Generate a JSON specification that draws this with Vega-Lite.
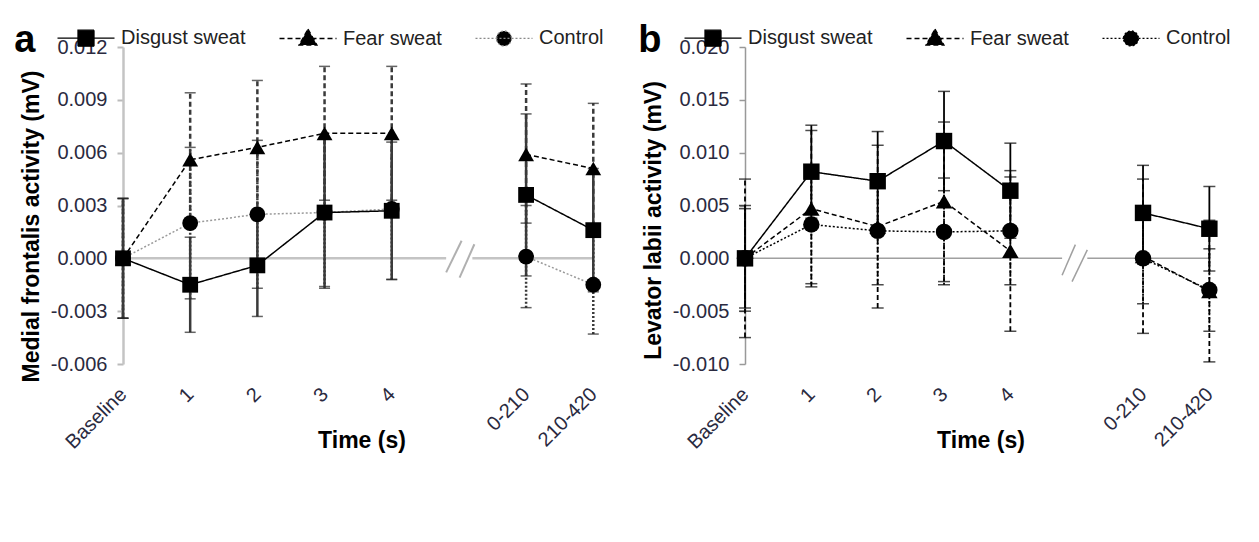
{
"$schema": "https://vega.github.io/schema/vega-lite/v6.json",
"background": "white",
"padding": {"left": 14, "top": 22, "right": 5, "bottom": 5},
"config": {"view": {"stroke": null}, "font": "Liberation Sans", "axis": {"grid": false}, "title": {"font": "Liberation Sans"}},
"datasets": {
"a": [
{"g":"Control","epoch":"early","t":0,"mean":0,"lo":-0.0034,"hi":0.0034},
{"g":"Control","epoch":"early","t":1,"mean":0.0020,"lo":-0.0023,"hi":0.0063},
{"g":"Control","epoch":"early","t":2,"mean":0.0025,"lo":-0.0017,"hi":0.0067},
{"g":"Control","epoch":"early","t":3,"mean":0.0026,"lo":-0.0017,"hi":0.0069},
{"g":"Control","epoch":"early","t":4,"mean":0.0028,"lo":-0.0012,"hi":0.0068},
{"g":"Control","epoch":"late","t":6,"mean":0.0001,"lo":-0.0028,"hi":0.0030},
{"g":"Control","epoch":"late","t":7,"mean":-0.0015,"lo":-0.0043,"hi":0.0013},
{"g":"Fear sweat","epoch":"early","t":0,"mean":0,"lo":-0.0034,"hi":0.0034},
{"g":"Fear sweat","epoch":"early","t":1,"mean":0.0056,"lo":0.0018,"hi":0.0094},
{"g":"Fear sweat","epoch":"early","t":2,"mean":0.0063,"lo":0.0025,"hi":0.0101},
{"g":"Fear sweat","epoch":"early","t":3,"mean":0.0071,"lo":0.0033,"hi":0.0109},
{"g":"Fear sweat","epoch":"early","t":4,"mean":0.0071,"lo":0.0033,"hi":0.0109},
{"g":"Fear sweat","epoch":"late","t":6,"mean":0.0059,"lo":0.0020,"hi":0.0099},
{"g":"Fear sweat","epoch":"late","t":7,"mean":0.0051,"lo":0.0014,"hi":0.0088},
{"g":"Disgust sweat","epoch":"early","t":0,"mean":0,"lo":-0.0034,"hi":0.0034},
{"g":"Disgust sweat","epoch":"early","t":1,"mean":-0.0015,"lo":-0.0042,"hi":0.0012},
{"g":"Disgust sweat","epoch":"early","t":2,"mean":-0.0004,"lo":-0.0033,"hi":0.0025},
{"g":"Disgust sweat","epoch":"early","t":3,"mean":0.0026,"lo":-0.0016,"hi":0.0068},
{"g":"Disgust sweat","epoch":"early","t":4,"mean":0.0027,"lo":-0.0012,"hi":0.0066},
{"g":"Disgust sweat","epoch":"late","t":6,"mean":0.0036,"lo":-0.0010,"hi":0.0082},
{"g":"Disgust sweat","epoch":"late","t":7,"mean":0.0016,"lo":-0.0019,"hi":0.0051}
],
"b": [
{"g":"Control","epoch":"early","t":0,"mean":0,"lo":-0.0050,"hi":0.0050},
{"g":"Control","epoch":"early","t":1,"mean":0.0032,"lo":-0.0024,"hi":0.0088},
{"g":"Control","epoch":"early","t":2,"mean":0.0026,"lo":-0.0025,"hi":0.0077},
{"g":"Control","epoch":"early","t":3,"mean":0.0025,"lo":-0.0025,"hi":0.0076},
{"g":"Control","epoch":"early","t":4,"mean":0.0026,"lo":-0.0025,"hi":0.0077},
{"g":"Control","epoch":"late","t":6,"mean":0.0000,"lo":-0.0043,"hi":0.0043},
{"g":"Control","epoch":"late","t":7,"mean":-0.0030,"lo":-0.0069,"hi":0.0009},
{"g":"Fear sweat","epoch":"early","t":0,"mean":0,"lo":-0.0075,"hi":0.0075},
{"g":"Fear sweat","epoch":"early","t":1,"mean":0.0047,"lo":-0.0027,"hi":0.0121},
{"g":"Fear sweat","epoch":"early","t":2,"mean":0.0030,"lo":-0.0047,"hi":0.0107},
{"g":"Fear sweat","epoch":"early","t":3,"mean":0.0054,"lo":-0.0022,"hi":0.0129},
{"g":"Fear sweat","epoch":"early","t":4,"mean":0.0007,"lo":-0.0069,"hi":0.0083},
{"g":"Fear sweat","epoch":"late","t":6,"mean":0.0002,"lo":-0.0071,"hi":0.0075},
{"g":"Fear sweat","epoch":"late","t":7,"mean":-0.0031,"lo":-0.0098,"hi":0.0036},
{"g":"Disgust sweat","epoch":"early","t":0,"mean":0,"lo":-0.0047,"hi":0.0047},
{"g":"Disgust sweat","epoch":"early","t":1,"mean":0.0082,"lo":0.0038,"hi":0.0126},
{"g":"Disgust sweat","epoch":"early","t":2,"mean":0.0073,"lo":0.0026,"hi":0.0120},
{"g":"Disgust sweat","epoch":"early","t":3,"mean":0.0111,"lo":0.0064,"hi":0.0158},
{"g":"Disgust sweat","epoch":"early","t":4,"mean":0.0064,"lo":0.0019,"hi":0.0109},
{"g":"Disgust sweat","epoch":"late","t":6,"mean":0.0043,"lo":-0.0002,"hi":0.0088},
{"g":"Disgust sweat","epoch":"late","t":7,"mean":0.0028,"lo":-0.0012,"hi":0.0068}
],
"zeroA": [{"t":0,"t2":4.81},{"t":5.2,"t2":7.0}],
"zeroB": [{"t":0,"t2":4.78},{"t":5.16,"t2":7.0}],
"breakA": [{"t":4.81,"v":-0.0008,"t2":5.04,"v2":0.0010},{"t":5.01,"v":-0.0011,"t2":5.23,"v2":0.0008}],
"breakB": [{"t":4.78,"v":-0.0016,"t2":4.98,"v2":0.0013},{"t":4.93,"v":-0.0022,"t2":5.16,"v2":0.0008}]
},
"spacing": 34,
"resolve": {"scale": {"x":"independent","y":"independent","color":"independent","strokeDash":"independent","shape":"independent","stroke":"independent"}, "legend": {"strokeDash":"independent","color":"independent","shape":"independent","stroke":"independent"}},
"hconcat": [
{
"width": 477, "height": 317,
"title": {"text": "a", "anchor": "start", "frame": "bounds", "fontSize": 38, "fontWeight": "bold", "color": "black", "offset": -62, "dx": -6, "baseline": "alphabetic"},
"resolve": {"scale": {"shape": "independent", "strokeDash": "independent", "stroke": "independent"}, "legend": {"shape": "independent", "strokeDash": "independent", "stroke": "independent"}},
"encoding": {"x": {"field": "t", "type": "quantitative", "scale": {"domain": [0, 7.1], "nice": false, "zero": false},
 "axis": {"title": "Time (s)", "titleFontSize": 23, "titleFontWeight": "bold", "titleColor": "black", "values": [0,1,2,3,4,6,7],
  "labelExpr": "datum.value === 0 ? 'Baseline' : datum.value === 6 ? '0-210' : datum.value === 7 ? '210-420' : datum.label",
  "labelAngle": -45, "labelAlign": "right", "labelBaseline": "middle", "labelFontSize": 20, "labelColor": "#2a2a40", "labelPadding": 27,
  "domain": false, "ticks": false, "labelFlush": false, "labelOverlap": false, "labelBound": false, "titleY": 65, "titleBaseline": "top"}}},
"layer": [
 {"data": {"name": "zeroA"}, "mark": {"type": "rule", "color": "#c4c4c4", "strokeWidth": 2.5},
  "encoding": {"x2": {"field": "t2"}, "y": {"datum": 0, "type": "quantitative", "scale": {"domain": [-0.006, 0.012], "nice": false},
    "axis": {"title": "Medial frontalis activity (mV)", "titleFontSize": 23, "titleFontWeight": "bold", "titleColor": "black", "titlePadding": 7, "titleY": 179,
     "values": [-0.006,-0.003,0,0.003,0.006,0.009,0.012], "labelExpr": "replace(format(datum.value, '.3f'), '\u2212', '-')",
     "labelFontSize": 20, "labelColor": "#2a2a40", "labelPadding": 10, "tickSize": 6, "tickColor": "#bbbbbb", "tickWidth": 2,
     "domainColor": "#c4c4c4", "domainWidth": 2.5, "labelFlush": false, "labelOverlap": false}}}},
 {"data": {"name": "breakA"}, "mark": {"type": "rule", "color": "#b0b0b0", "strokeWidth": 2},
  "encoding": {"x2": {"field": "t2"}, "y": {"field": "v", "type": "quantitative", "scale": {"domain": [-0.006, 0.012], "nice": false},
    "axis": {"title": "Medial frontalis activity (mV)", "titleFontSize": 23, "titleFontWeight": "bold", "titleColor": "black", "titlePadding": 7, "titleY": 179,
     "values": [-0.006,-0.003,0,0.003,0.006,0.009,0.012], "labelExpr": "replace(format(datum.value, '.3f'), '\u2212', '-')",
     "labelFontSize": 20, "labelColor": "#2a2a40", "labelPadding": 10, "tickSize": 6, "tickColor": "#bbbbbb", "tickWidth": 2,
     "domainColor": "#c4c4c4", "domainWidth": 2.5, "labelFlush": false, "labelOverlap": false}}, "y2": {"field": "v2"}}},
 {"data": {"name": "a"}, "mark": {"type": "rule", "color": "#3a3a3a", "strokeWidth": 2.5},
  "encoding": {"y": {"field": "lo", "type": "quantitative", "scale": {"domain": [-0.006, 0.012], "nice": false},
    "axis": {"title": "Medial frontalis activity (mV)", "titleFontSize": 23, "titleFontWeight": "bold", "titleColor": "black", "titlePadding": 7, "titleY": 179,
     "values": [-0.006,-0.003,0,0.003,0.006,0.009,0.012], "labelExpr": "replace(format(datum.value, '.3f'), '\u2212', '-')",
     "labelFontSize": 20, "labelColor": "#2a2a40", "labelPadding": 10, "tickSize": 6, "tickColor": "#bbbbbb", "tickWidth": 2,
     "domainColor": "#c4c4c4", "domainWidth": 2.5, "labelFlush": false, "labelOverlap": false}}, "y2": {"field": "hi"},
   "strokeDash": {"field": "g", "type": "nominal", "scale": {"domain": ["Disgust sweat","Fear sweat","Control"], "range": [[1,0],[5,3],[2,2]]}, "legend": null}}},
 {"data": {"name": "a"}, "mark": {"type": "tick", "orient": "horizontal", "size": 11, "thickness": 1.5, "color": "#222"},
  "encoding": {"y": {"field": "lo", "type": "quantitative", "scale": {"domain": [-0.006, 0.012], "nice": false},
    "axis": {"title": "Medial frontalis activity (mV)", "titleFontSize": 23, "titleFontWeight": "bold", "titleColor": "black", "titlePadding": 7, "titleY": 179,
     "values": [-0.006,-0.003,0,0.003,0.006,0.009,0.012], "labelExpr": "replace(format(datum.value, '.3f'), '\u2212', '-')",
     "labelFontSize": 20, "labelColor": "#2a2a40", "labelPadding": 10, "tickSize": 6, "tickColor": "#bbbbbb", "tickWidth": 2,
     "domainColor": "#c4c4c4", "domainWidth": 2.5, "labelFlush": false, "labelOverlap": false}}}},
 {"data": {"name": "a"}, "mark": {"type": "tick", "orient": "horizontal", "size": 11, "thickness": 1.5, "color": "#222"},
  "encoding": {"y": {"field": "hi", "type": "quantitative", "scale": {"domain": [-0.006, 0.012], "nice": false},
    "axis": {"title": "Medial frontalis activity (mV)", "titleFontSize": 23, "titleFontWeight": "bold", "titleColor": "black", "titlePadding": 7, "titleY": 179,
     "values": [-0.006,-0.003,0,0.003,0.006,0.009,0.012], "labelExpr": "replace(format(datum.value, '.3f'), '\u2212', '-')",
     "labelFontSize": 20, "labelColor": "#2a2a40", "labelPadding": 10, "tickSize": 6, "tickColor": "#bbbbbb", "tickWidth": 2,
     "domainColor": "#c4c4c4", "domainWidth": 2.5, "labelFlush": false, "labelOverlap": false}}}},
 {"data": {"name": "a"}, "mark": {"type": "line", "strokeWidth": 1.5},
  "encoding": {"y": {"field": "mean", "type": "quantitative", "scale": {"domain": [-0.006, 0.012], "nice": false},
    "axis": {"title": "Medial frontalis activity (mV)", "titleFontSize": 23, "titleFontWeight": "bold", "titleColor": "black", "titlePadding": 7, "titleY": 179,
     "values": [-0.006,-0.003,0,0.003,0.006,0.009,0.012], "labelExpr": "replace(format(datum.value, '.3f'), '\u2212', '-')",
     "labelFontSize": 20, "labelColor": "#2a2a40", "labelPadding": 10, "tickSize": 6, "tickColor": "#bbbbbb", "tickWidth": 2,
     "domainColor": "#c4c4c4", "domainWidth": 2.5, "labelFlush": false, "labelOverlap": false}},
   "detail": {"field": "epoch"},
   "color": {"field": "g", "type": "nominal", "scale": {"domain": ["Disgust sweat","Fear sweat","Control"], "range": ["black","black","#9a9a9a"]}, "legend": null},
   "strokeDash": {"field": "g", "type": "nominal", "scale": {"domain": ["Disgust sweat","Fear sweat","Control"], "range": [[1,0],[5,3],[2,2]]}, "legend": null}}},
 {"data": {"name": "a"}, "mark": {"type": "point", "filled": true, "opacity": 1, "color": "black", "size": 250},
  "encoding": {"y": {"field": "mean", "type": "quantitative", "scale": {"domain": [-0.006, 0.012], "nice": false},
    "axis": {"title": "Medial frontalis activity (mV)", "titleFontSize": 23, "titleFontWeight": "bold", "titleColor": "black", "titlePadding": 7, "titleY": 179,
     "values": [-0.006,-0.003,0,0.003,0.006,0.009,0.012], "labelExpr": "replace(format(datum.value, '.3f'), '\u2212', '-')",
     "labelFontSize": 20, "labelColor": "#2a2a40", "labelPadding": 10, "tickSize": 6, "tickColor": "#bbbbbb", "tickWidth": 2,
     "domainColor": "#c4c4c4", "domainWidth": 2.5, "labelFlush": false, "labelOverlap": false}},
   "shape": {"field": "g", "type": "nominal", "scale": {"domain": ["Disgust sweat","Fear sweat","Control"], "range": ["square","triangle-up","circle"]}, "legend": null}}},
 {"data": {"values": []}, "mark": {"type": "point", "filled": true, "opacity": 1, "color": "black", "size": 100, "strokeWidth": 1.3},
  "encoding": {
   "shape": {"field": "g", "type": "nominal", "scale": {"domain": ["Disgust sweat","Fear sweat","Control"], "range": ["M-5.7,0H5.7M-1.6,-1.6H1.6V1.6H-1.6Z", "M-5.7,0H5.7M0,-1.9L1.8,1.3H-1.8Z", "M-5.7,0H5.7M1.5,0A1.5,1.5,0,1,1,-1.5,0A1.5,1.5,0,1,1,1.5,0Z"]},
    "legend": {"title": null, "orient": "none", "legendX": -67, "legendY": -19, "direction": "horizontal", "padding": 0, "symbolOffset": 20, "labelOffset": 25, "columnPadding": 30, "symbolSize": 100, "symbolStrokeWidth": 1.3, "symbolOpacity": 1, "labelFontSize": 20, "labelColor": "#222", "labelFont": "Liberation Sans"}},
   "strokeDash": {"field": "g", "type": "nominal", "scale": {"domain": ["Disgust sweat","Fear sweat","Control"], "range": [[1,0],[5,3],[2,2]]},
    "legend": {"title": null, "orient": "none", "legendX": -67, "legendY": -19, "direction": "horizontal", "padding": 0, "symbolOffset": 20, "labelOffset": 25, "columnPadding": 30, "symbolSize": 100, "symbolStrokeWidth": 1.3, "symbolOpacity": 1, "labelFontSize": 20, "labelColor": "#222", "labelFont": "Liberation Sans"}},
   "stroke": {"field": "g", "type": "nominal", "scale": {"domain": ["Disgust sweat","Fear sweat","Control"], "range": ["black","black","#8a8a8a"]},
    "legend": {"title": null, "orient": "none", "legendX": -67, "legendY": -19, "direction": "horizontal", "padding": 0, "symbolOffset": 20, "labelOffset": 25, "columnPadding": 30, "symbolSize": 100, "symbolStrokeWidth": 1.3, "symbolOpacity": 1, "labelFontSize": 20, "labelColor": "#222", "labelFont": "Liberation Sans"}}}}
]
},
{
"width": 471, "height": 317,
"title": {"text": "b", "anchor": "start", "frame": "bounds", "fontSize": 38, "fontWeight": "bold", "color": "black", "offset": -62, "dx": -4, "baseline": "alphabetic"},
"resolve": {"scale": {"shape": "independent", "strokeDash": "independent"}, "legend": {"shape": "independent", "strokeDash": "independent"}},
"encoding": {"x": {"field": "t", "type": "quantitative", "scale": {"domain": [0, 7.1], "nice": false, "zero": false},
 "axis": {"title": "Time (s)", "titleFontSize": 23, "titleFontWeight": "bold", "titleColor": "black", "values": [0,1,2,3,4,6,7],
  "labelExpr": "datum.value === 0 ? 'Baseline' : datum.value === 6 ? '0-210' : datum.value === 7 ? '210-420' : datum.label",
  "labelAngle": -45, "labelAlign": "right", "labelBaseline": "middle", "labelFontSize": 20, "labelColor": "#2a2a40", "labelPadding": 27,
  "domain": false, "ticks": false, "labelFlush": false, "labelOverlap": false, "labelBound": false, "titleY": 65, "titleBaseline": "top"}}},
"layer": [
 {"data": {"name": "zeroB"}, "mark": {"type": "rule", "color": "#a0a0a0", "strokeWidth": 1.5},
  "encoding": {"x2": {"field": "t2"}, "y": {"datum": 0, "type": "quantitative", "scale": {"domain": [-0.010, 0.020], "nice": false},
    "axis": {"title": "Levator labii activity (mV)", "titleFontSize": 23, "titleFontWeight": "bold", "titleColor": "black", "titlePadding": 7, "titleY": 173,
     "values": [-0.010,-0.005,0,0.005,0.010,0.015,0.020], "labelExpr": "replace(format(datum.value, '.3f'), '\u2212', '-')",
     "labelFontSize": 20, "labelColor": "#2a2a40", "labelPadding": 10, "tickSize": 6, "tickColor": "#999999", "tickWidth": 1.5,
     "domainColor": "#999999", "domainWidth": 1.5, "labelFlush": false, "labelOverlap": false}}}},
 {"data": {"name": "breakB"}, "mark": {"type": "rule", "color": "#a0a0a0", "strokeWidth": 1.5},
  "encoding": {"x2": {"field": "t2"}, "y": {"field": "v", "type": "quantitative", "scale": {"domain": [-0.010, 0.020], "nice": false},
    "axis": {"title": "Levator labii activity (mV)", "titleFontSize": 23, "titleFontWeight": "bold", "titleColor": "black", "titlePadding": 7, "titleY": 173,
     "values": [-0.010,-0.005,0,0.005,0.010,0.015,0.020], "labelExpr": "replace(format(datum.value, '.3f'), '\u2212', '-')",
     "labelFontSize": 20, "labelColor": "#2a2a40", "labelPadding": 10, "tickSize": 6, "tickColor": "#999999", "tickWidth": 1.5,
     "domainColor": "#999999", "domainWidth": 1.5, "labelFlush": false, "labelOverlap": false}}, "y2": {"field": "v2"}}},
 {"data": {"name": "b"}, "mark": {"type": "rule", "color": "black", "strokeWidth": 1.8},
  "encoding": {"y": {"field": "lo", "type": "quantitative", "scale": {"domain": [-0.010, 0.020], "nice": false},
    "axis": {"title": "Levator labii activity (mV)", "titleFontSize": 23, "titleFontWeight": "bold", "titleColor": "black", "titlePadding": 7, "titleY": 173,
     "values": [-0.010,-0.005,0,0.005,0.010,0.015,0.020], "labelExpr": "replace(format(datum.value, '.3f'), '\u2212', '-')",
     "labelFontSize": 20, "labelColor": "#2a2a40", "labelPadding": 10, "tickSize": 6, "tickColor": "#999999", "tickWidth": 1.5,
     "domainColor": "#999999", "domainWidth": 1.5, "labelFlush": false, "labelOverlap": false}}, "y2": {"field": "hi"},
   "strokeDash": {"field": "g", "type": "nominal", "scale": {"domain": ["Disgust sweat","Fear sweat","Control"], "range": [[1,0],[5,3],[2,2]]}, "legend": null}}},
 {"data": {"name": "b"}, "mark": {"type": "tick", "orient": "horizontal", "size": 12, "thickness": 1.5, "color": "black"},
  "encoding": {"y": {"field": "lo", "type": "quantitative", "scale": {"domain": [-0.010, 0.020], "nice": false},
    "axis": {"title": "Levator labii activity (mV)", "titleFontSize": 23, "titleFontWeight": "bold", "titleColor": "black", "titlePadding": 7, "titleY": 173,
     "values": [-0.010,-0.005,0,0.005,0.010,0.015,0.020], "labelExpr": "replace(format(datum.value, '.3f'), '\u2212', '-')",
     "labelFontSize": 20, "labelColor": "#2a2a40", "labelPadding": 10, "tickSize": 6, "tickColor": "#999999", "tickWidth": 1.5,
     "domainColor": "#999999", "domainWidth": 1.5, "labelFlush": false, "labelOverlap": false}}}},
 {"data": {"name": "b"}, "mark": {"type": "tick", "orient": "horizontal", "size": 12, "thickness": 1.5, "color": "black"},
  "encoding": {"y": {"field": "hi", "type": "quantitative", "scale": {"domain": [-0.010, 0.020], "nice": false},
    "axis": {"title": "Levator labii activity (mV)", "titleFontSize": 23, "titleFontWeight": "bold", "titleColor": "black", "titlePadding": 7, "titleY": 173,
     "values": [-0.010,-0.005,0,0.005,0.010,0.015,0.020], "labelExpr": "replace(format(datum.value, '.3f'), '\u2212', '-')",
     "labelFontSize": 20, "labelColor": "#2a2a40", "labelPadding": 10, "tickSize": 6, "tickColor": "#999999", "tickWidth": 1.5,
     "domainColor": "#999999", "domainWidth": 1.5, "labelFlush": false, "labelOverlap": false}}}},
 {"data": {"name": "b"}, "mark": {"type": "line", "strokeWidth": 1.5, "color": "black"},
  "encoding": {"y": {"field": "mean", "type": "quantitative", "scale": {"domain": [-0.010, 0.020], "nice": false},
    "axis": {"title": "Levator labii activity (mV)", "titleFontSize": 23, "titleFontWeight": "bold", "titleColor": "black", "titlePadding": 7, "titleY": 173,
     "values": [-0.010,-0.005,0,0.005,0.010,0.015,0.020], "labelExpr": "replace(format(datum.value, '.3f'), '\u2212', '-')",
     "labelFontSize": 20, "labelColor": "#2a2a40", "labelPadding": 10, "tickSize": 6, "tickColor": "#999999", "tickWidth": 1.5,
     "domainColor": "#999999", "domainWidth": 1.5, "labelFlush": false, "labelOverlap": false}},
   "detail": {"field": "epoch"},
   "strokeDash": {"field": "g", "type": "nominal", "scale": {"domain": ["Disgust sweat","Fear sweat","Control"], "range": [[1,0],[5,3],[2,2]]}, "legend": null}}},
 {"data": {"name": "b"}, "mark": {"type": "point", "filled": true, "opacity": 1, "color": "black", "size": 270},
  "encoding": {"y": {"field": "mean", "type": "quantitative", "scale": {"domain": [-0.010, 0.020], "nice": false},
    "axis": {"title": "Levator labii activity (mV)", "titleFontSize": 23, "titleFontWeight": "bold", "titleColor": "black", "titlePadding": 7, "titleY": 173,
     "values": [-0.010,-0.005,0,0.005,0.010,0.015,0.020], "labelExpr": "replace(format(datum.value, '.3f'), '\u2212', '-')",
     "labelFontSize": 20, "labelColor": "#2a2a40", "labelPadding": 10, "tickSize": 6, "tickColor": "#999999", "tickWidth": 1.5,
     "domainColor": "#999999", "domainWidth": 1.5, "labelFlush": false, "labelOverlap": false}},
   "shape": {"field": "g", "type": "nominal", "scale": {"domain": ["Disgust sweat","Fear sweat","Control"], "range": ["square","triangle-up","circle"]}, "legend": null}}},
 {"data": {"values": []}, "mark": {"type": "point", "filled": true, "opacity": 1, "color": "black", "stroke": "black", "size": 100, "strokeWidth": 1.3},
  "encoding": {
   "shape": {"field": "g", "type": "nominal", "scale": {"domain": ["Disgust sweat","Fear sweat","Control"], "range": ["M-5.7,0H5.7M-1.6,-1.6H1.6V1.6H-1.6Z", "M-5.7,0H5.7M0,-1.9L1.8,1.3H-1.8Z", "M-5.7,0H5.7M1.5,0A1.5,1.5,0,1,1,-1.5,0A1.5,1.5,0,1,1,1.5,0Z"]},
    "legend": {"title": null, "orient": "none", "legendX": -62, "legendY": -19, "direction": "horizontal", "padding": 0, "symbolOffset": 20, "labelOffset": 25, "columnPadding": 30, "symbolSize": 100, "symbolStrokeWidth": 1.3, "symbolOpacity": 1, "labelFontSize": 20, "labelColor": "#222", "labelFont": "Liberation Sans"}},
   "strokeDash": {"field": "g", "type": "nominal", "scale": {"domain": ["Disgust sweat","Fear sweat","Control"], "range": [[1,0],[5,3],[2,2]]},
    "legend": {"title": null, "orient": "none", "legendX": -62, "legendY": -19, "direction": "horizontal", "padding": 0, "symbolOffset": 20, "labelOffset": 25, "columnPadding": 30, "symbolSize": 100, "symbolStrokeWidth": 1.3, "symbolOpacity": 1, "labelFontSize": 20, "labelColor": "#222", "labelFont": "Liberation Sans"}}}}
]
}
]
}
